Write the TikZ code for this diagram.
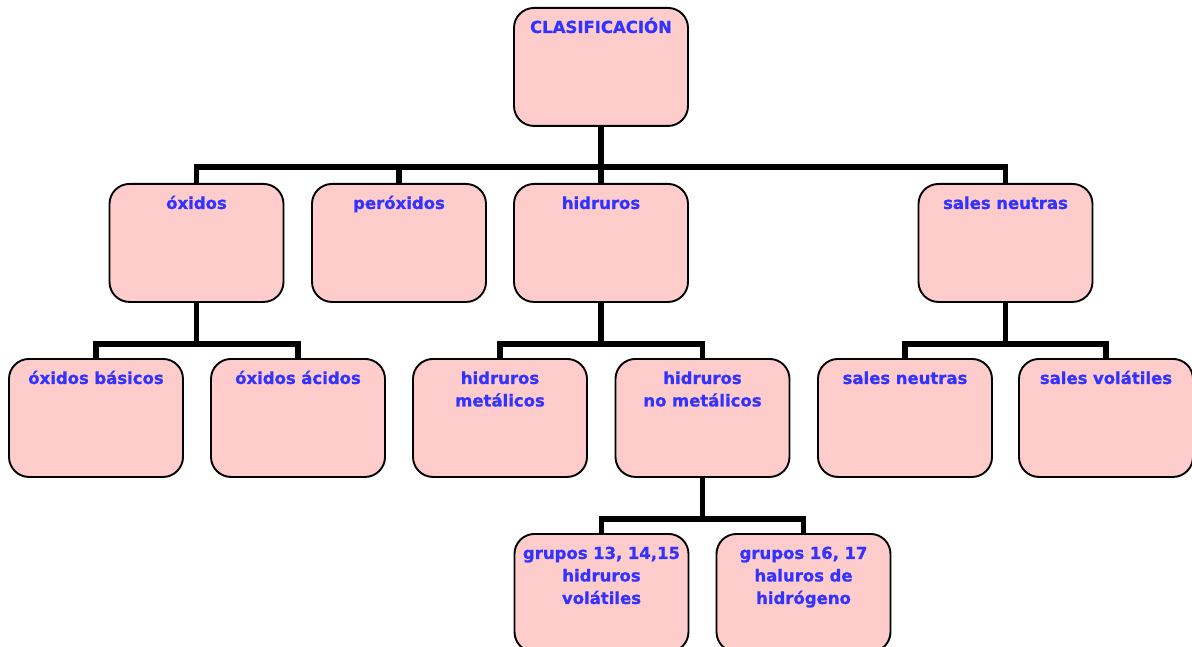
\documentclass[tikz,border=0pt]{standalone}
\usepackage{fontspec}
\setmainfont{DejaVu Sans}[BoldFeatures={FakeBold=1}]
\usepackage{tikz}
\usetikzlibrary{calc}
\definecolor{cajarosa}{HTML}{FFCCCC}
\definecolor{letraazul}{HTML}{3333FF}

\begin{document}
\begin{tikzpicture}[x=1pt,y=-1pt,
        caja/.style={draw=black, line width=1.9pt, fill=cajarosa, rounded corners=20pt,
            anchor=north, text width=170pt, align=center, inner xsep=2pt, inner ysep=0pt,
            text height=25pt, text depth=93pt, text=letraazul,
            font=\fontsize{16.5}{22.5}\selectfont\bfseries},
        rama/.style={line width=5.7pt}]

                                \useasboundingbox (0,0) rectangle (1192,647);

                                % nivel 1
                                \node[caja] (raiz) at (601,7) {CLASIFICACIÓN};
                                % nivel 2
                                \node[caja] (oxi) at (196.5,183) {óxidos};
                                \node[caja] (per) at (399,183) {peróxidos};
                                \node[caja] (hid) at (601,183) {hidruros};
                                \node[caja] (sal) at (1005.5,183) {sales neutras};
                                % nivel 3
                                \node[caja] (obas) at (96,358) {óxidos básicos};
                                \node[caja] (oaci) at (298,358) {óxidos ácidos};
                                \node[caja] (hmet) at (500,358) {hidruros\\metálicos};
                                \node[caja] (hnom) at (702.5,358) {hidruros\\no metálicos};
                                \node[caja] (sneu) at (905,358) {sales neutras};
                                \node[caja] (svol) at (1106,358) {sales volátiles};
                                % nivel 4
                                \node[caja] (g13) at (601.5,533) {grupos 13, 14,15\\hidruros\\volátiles};
                                \node[caja] (g16) at (803.5,533) {grupos 16, 17\\haluros de\\hidrógeno};

                                \foreach \hijo in {oxi,per,hid,sal}
                                    \draw[rama] (raiz.south) -- ++(0,40) -| (\hijo.north);
                                \foreach \padre/\hijo in {oxi/obas,oxi/oaci,hid/hmet,hid/hnom,sal/sneu,sal/svol,hnom/g13,hnom/g16}
                                    \draw[rama] (\padre.south) -- ++(0,41) -| (\hijo.north);
                            \end{tikzpicture}
\end{document}
